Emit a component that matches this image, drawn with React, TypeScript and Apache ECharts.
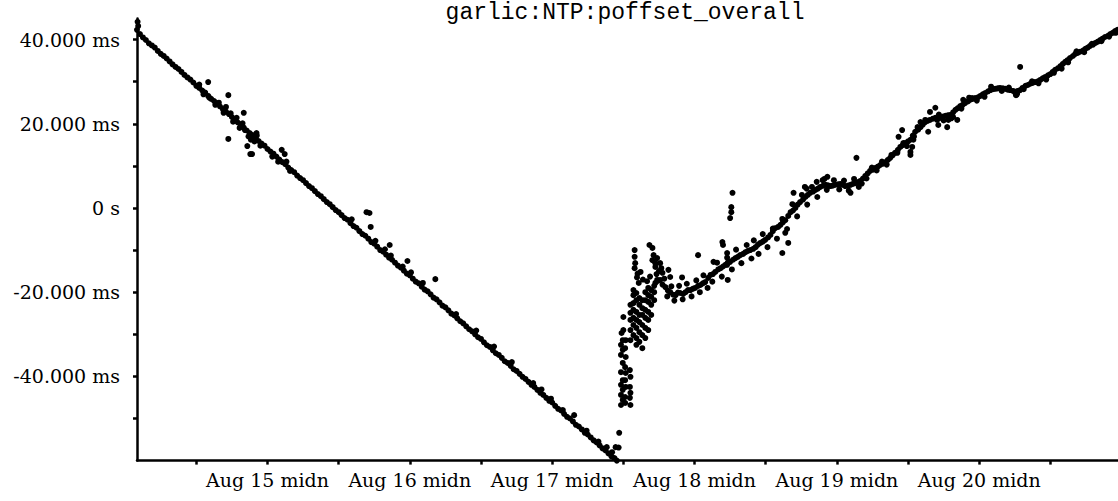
import React, { useEffect, useRef } from "react";
import * as echarts from "echarts";

// x values: hours relative to Aug 15 00:00 ; y values: offset in ms
const titleText = "garlic:NTP:poffset_overall";

const xTickHours = [-12, 0, 12, 24, 36, 48, 60, 72, 84, 96, 108, 120, 132];
const xLabelHours = [0, 24, 48, 72, 96, 120];
const xLabelTexts = ["Aug 15 midn", "Aug 16 midn", "Aug 17 midn", "Aug 18 midn", "Aug 19 midn", "Aug 20 midn"];
const yTickValues = [-50, -40, -30, -20, -10, 0, 10, 20, 30, 40];
const yLabelValues = [-40, -20, 0, 20, 40];
const yLabelTexts = ["-40.000 ms", "-20.000 ms", "0 s", "20.000 ms", "40.000 ms"];

const declinePoints: [number, number][] = [
  [-21.9, 44.2], [-21.8, 43.2], [-22.0, 42.3], [-21.5, 41.3], [-21, 40.5], [-20.5, 39.9], [-20, 39.1], [-19.5, 38.6],
  [-19, 38.1], [-18.5, 37.3], [-18, 36.6], [-17.5, 36.1], [-17, 35.5], [-16.5, 34.8], [-16, 34.1], [-15.5, 33.5],
  [-15, 33.0], [-14.5, 32.3], [-14, 31.6], [-13.5, 31.0], [-13, 30.5], [-12.5, 29.8], [-12, 29.0], [-11.5, 28.5],
  [-11, 27.9], [-10.5, 27.4], [-10, 26.6], [-9.5, 25.9], [-9, 25.4], [-8.5, 24.8], [-8, 24.1], [-7.5, 23.4],
  [-7, 22.9], [-6.5, 22.3], [-6, 21.6], [-5.5, 20.9], [-5, 20.3], [-4.5, 19.8], [-4, 19.1], [-3.5, 18.4],
  [-3, 17.8], [-2.5, 17.3], [-2, 16.6], [-1.5, 15.9], [-1, 15.3], [-0.5, 14.8], [0, 14.0], [0.5, 13.4],
  [1, 12.9], [1.5, 12.2], [2, 11.5], [2.5, 10.9], [3, 10.4], [3.5, 9.6], [4, 9.0], [4.5, 8.5],
  [5, 7.7], [5.5, 7.1], [6, 6.6], [6.5, 5.9], [7, 5.2], [7.5, 4.7], [8, 4.0], [8.5, 3.3],
  [9, 2.8], [9.5, 2.1], [10, 1.4], [10.5, 0.9], [11, 0.2], [11.5, -0.5], [12, -1.0], [12.5, -1.7],
  [13, -2.4], [13.5, -2.8], [14, -3.6], [14.5, -4.3], [15, -4.7], [15.5, -5.5], [16, -6.2], [16.5, -6.6],
  [17, -7.3], [17.5, -8.1], [18, -8.5], [18.5, -9.2], [19, -10.0], [19.5, -10.4], [20, -11.1], [20.5, -11.8],
  [21, -12.3], [21.5, -13.0], [22, -13.7], [22.5, -14.2], [23, -14.9], [23.5, -15.6], [24, -16.0], [24.5, -16.8],
  [25, -17.5], [25.5, -17.9], [26, -18.7], [26.5, -19.4], [27, -19.8], [27.5, -20.5], [28, -21.3], [28.5, -21.7],
  [29, -22.4], [29.5, -23.2], [30, -23.6], [30.5, -24.3], [31, -25.1], [31.5, -25.5], [32, -26.2], [32.5, -26.9],
  [33, -27.4], [33.5, -28.1], [34, -28.8], [34.5, -29.3], [35, -30.0], [35.5, -30.7], [36, -31.1], [36.5, -31.9],
  [37, -32.6], [37.5, -33.0], [38, -33.8], [38.5, -34.5], [39, -34.9], [39.5, -35.6], [40, -36.4], [40.5, -36.8],
  [41, -37.5], [41.5, -38.3], [42, -38.7], [42.5, -39.4], [43, -40.1], [43.5, -40.6], [44, -41.3], [44.5, -42.0],
  [45, -42.5], [45.5, -43.2], [46, -43.9], [46.5, -44.4], [47, -45.1], [47.5, -45.8], [48, -46.2], [48.5, -47.0],
  [49, -47.7], [49.5, -48.1], [50, -48.9], [50.5, -49.6], [51, -50.0], [51.5, -50.7], [52, -51.5], [52.5, -51.9],
  [53, -52.6], [53.5, -53.4], [54, -53.8], [54.5, -54.5], [55, -55.2], [55.5, -55.7], [56, -56.4], [56.5, -57.1],
  [57, -57.6], [57.5, -58.3], [58, -59.0], [58.5, -59.4], [58.9, -60.0],
];

const declineScatter: [number, number][] = [
  [-11.5, 29.3], [-10.8, 27.0], [-9.8, 26.2], [-8.8, 24.5], [-8.2, 25.0], [-7.4, 22.6], [-7.0, 24.0], [-6.2, 22.5],
  [-5.8, 20.5], [-5.2, 21.4], [-4.7, 19.0], [-4.2, 20.1], [-3.8, 18.5], [-3.2, 17.0], [-2.8, 16.2], [-2.2, 15.8],
  [-1.8, 17.2], [-1.2, 14.8], [0.8, 12.2], [1.8, 11.0], [3.2, 11.0], [3.8, 8.8], [14.2, -2.7], [18.2, -7.8],
  [19.8, -9.8], [20.8, -11.3], [22.8, -13.9], [24.2, -15.3], [26.2, -17.8], [31.8, -25.2], [35.2, -29.1],
  [38.2, -32.9], [41.2, -36.6], [44.8, -41.6], [46.2, -43.1], [47.8, -45.3], [49.8, -48.0], [53.8, -52.9],
  [55.8, -55.5], [57.2, -56.8],
  [-10.0, 29.9], [-6.6, 26.8], [-4.0, 22.6], [-6.6, 16.4], [-1.85, 17.8], [-2.9, 12.8], [-2.6, 12.8], [-3.4, 14.7],
  [2.4, 13.8], [2.9, 12.8], [16.7, -1.0], [17.2, -1.2], [17.4, -4.5], [20.6, -8.8], [23.6, -12.6], [28.3, -16.9],
  [51.7, -49.2],
];

const recoveryBurst: [number, number][] = [
  [58.1, -58.0], [58.7, -56.8], [59.2, -56.9], [59.3, -53.4],
  [59.6, -46.8], [59.9, -45.6], [59.6, -44.4], [59.9, -43.2], [59.6, -42.0], [59.9, -40.9], [59.6, -39.0],
  [59.9, -36.8], [59.6, -34.9], [59.9, -33.7], [59.6, -32.5], [59.9, -31.4], [59.7, -29.7], [60.0, -29.0], [60.0, -25.9],
  [60.3, -46.3], [60.3, -44.9], [60.4, -42.5], [60.3, -40.9], [60.4, -39.2], [60.3, -37.8], [60.4, -35.4], [60.3, -33.3], [60.4, -31.4],
  [61.2, -46.8], [61.1, -45.1], [61.2, -43.9], [61.1, -42.5], [61.2, -40.1], [61.1, -38.5],
  [61.2, -31.4], [61.2, -29.0], [61.2, -26.6], [61.2, -24.9], [61.2, -23.0],
  [61.7, -30.2], [61.7, -27.8], [61.7, -26.1], [61.7, -24.2], [61.7, -22.6], [61.7, -20.7], [61.7, -19.5],
  [62.2, -32.5], [62.2, -30.9], [62.2, -28.5], [62.2, -26.6], [62.2, -24.7], [62.2, -21.9], [62.2, -20.2],
  [62.7, -31.8], [62.7, -29.5], [62.7, -27.1], [62.7, -25.4], [62.7, -23.0], [62.7, -21.4],
  [63.2, -33.3], [63.2, -30.2], [63.2, -27.8], [63.2, -25.4], [63.2, -23.8], [63.2, -21.9],
  [63.7, -30.9], [63.7, -28.5], [63.7, -26.1], [63.7, -24.2], [63.7, -21.9], [63.7, -20.0],
  [64.2, -29.0], [64.2, -26.6], [64.2, -24.7], [64.2, -22.3], [64.2, -20.7], [64.2, -19.0],
  [64.7, -25.4], [64.7, -23.0], [64.7, -21.1], [64.7, -19.5],
  [65.2, -21.9], [65.2, -20.0], [65.2, -18.5],
  [61.9, -10.0], [61.9, -11.6], [62.0, -13.1], [61.9, -14.3], [62.9, -15.2], [62.4, -15.6],
  [64.4, -8.8], [64.9, -9.5], [65.1, -11.2], [64.9, -12.4], [65.4, -13.1], [65.7, -11.9], [66.2, -13.1],
  [66.4, -14.3], [66.6, -15.4], [65.4, -14.0],
  [62.3, -16.5], [62.6, -17.8], [63.3, -17.0], [64.0, -17.4], [64.5, -16.3],
];

const recoveryPoints: [number, number][] = [
  [65.4, -17.8], [65.8, -17.3], [66.2, -17.1], [66.6, -18.2], [67.1, -18.8], [67.5, -19.6], [67.9, -20.0], [68.4, -20.6],
  [68.8, -20.7], [69.2, -20.1], [69.6, -20.2], [70.1, -20.4], [70.5, -20.0], [70.9, -19.5], [71.3, -19.5], [71.7, -19.2],
  [72.1, -19.0], [72.6, -18.5], [73.0, -18.3], [73.4, -17.9], [73.8, -17.6], [74.3, -16.6], [74.7, -15.9], [75.1, -15.7],
  [75.5, -15.2], [76.0, -14.6], [76.4, -14.3], [76.8, -13.9], [77.2, -13.5], [77.6, -13.0], [78.0, -12.8], [78.5, -12.3],
  [78.9, -11.9], [79.3, -11.6], [79.7, -11.2], [80.2, -10.9], [80.6, -10.5], [81.0, -10.2], [81.4, -10.0], [81.9, -9.7],
  [82.3, -9.3], [82.7, -8.7], [83.1, -8.3], [83.5, -8.0], [83.9, -7.6], [84.4, -7.0], [84.8, -6.4], [85.2, -5.5],
  [85.6, -4.8], [86.1, -4.5], [86.5, -4.0], [86.9, -3.4], [87.3, -2.9], [87.8, -1.9], [88.2, -1.0], [88.6, -0.6],
  [89.0, 0.0], [89.4, 0.8], [89.8, 1.4], [90.3, 2.0], [90.7, 2.6], [91.1, 3.1], [91.5, 3.6], [92.0, 3.9],
  [92.4, 4.3], [92.8, 4.6], [93.2, 5.0], [93.7, 5.3], [94.1, 5.5], [94.5, 5.4], [94.9, 5.2], [95.3, 5.3],
  [95.7, 5.5], [96.2, 5.6], [96.6, 5.7], [97.0, 5.5], [97.4, 5.2], [97.9, 5.3], [98.3, 5.5], [98.7, 5.7],
  [99.1, 5.9], [99.5, 6.1], [99.9, 6.4], [100.4, 7.0], [100.8, 7.6], [101.2, 8.2], [101.6, 8.8], [102.1, 9.1],
  [102.5, 9.5], [102.9, 9.8], [103.3, 10.2], [103.8, 10.5], [104.2, 10.9], [104.6, 11.4], [105.0, 11.9], [105.4, 12.5],
  [105.8, 13.1], [106.3, 13.8], [106.7, 14.5], [107.1, 14.9], [107.5, 15.4], [108.0, 15.8], [108.4, 16.2], [108.8, 17.2],
  [109.2, 18.1], [109.7, 18.6], [110.1, 19.2], [110.5, 19.8], [110.9, 20.4], [111.3, 20.7], [111.7, 20.9], [112.2, 21.2],
  [112.6, 21.4], [113.0, 21.3], [113.4, 21.4], [113.9, 21.7], [114.3, 21.9], [114.7, 22.0], [115.1, 22.1], [115.6, 22.7],
  [116.0, 23.3], [116.4, 23.7], [116.8, 24.2], [117.2, 24.5], [117.6, 24.9], [118.1, 25.3], [118.5, 25.7], [118.9, 25.9],
  [119.3, 26.1], [119.8, 26.3], [120.2, 26.6], [120.6, 27.0], [121.0, 27.3], [121.5, 27.7], [121.9, 28.0], [122.3, 28.2],
  [122.7, 28.3], [123.1, 28.4], [123.5, 28.5], [124.0, 28.4], [124.4, 28.3], [124.8, 28.1], [125.2, 28.0], [125.7, 27.8],
  [126.1, 27.6], [126.5, 27.8], [126.9, 28.0], [127.3, 28.5], [127.8, 29.0], [128.2, 29.2], [128.6, 29.5], [129.0, 29.7],
  [129.4, 29.9], [129.9, 30.1], [130.3, 30.4], [130.7, 30.8], [131.1, 31.1], [131.6, 31.5], [132.0, 31.8], [132.4, 32.3],
  [132.8, 32.8], [133.3, 33.2], [133.7, 33.7], [134.1, 34.2], [134.5, 34.7], [134.9, 35.1], [135.3, 35.6], [135.8, 36.1],
  [136.2, 36.6], [136.6, 36.8], [137.0, 37.1], [137.5, 37.4], [137.9, 37.8], [138.3, 38.1], [138.7, 38.5], [139.2, 38.8],
  [139.6, 39.2], [140.0, 39.5], [140.4, 39.9], [140.8, 40.2], [141.2, 40.6], [141.7, 40.9], [142.1, 41.3], [142.5, 41.6],
  [142.9, 42.0], [143.3, 42.3],
];

const recoveryScatter: [number, number][] = [
  [66.0, -15.0], [66.9, -16.8], [67.4, -21.0], [68.1, -18.6], [68.6, -22.0], [69.4, -18.5], [70.0, -21.7], [70.7, -18.0],
  [71.5, -21.0], [72.3, -17.2], [72.9, -20.0], [65.6, -15.7], [65.7, -17.1], [67.6, -14.7], [67.9, -16.4], [69.9, -16.5],
  [73.5, -16.0], [74.2, -19.0], [75.0, -17.5], [75.8, -13.0], [76.6, -16.3], [77.5, -11.8], [78.3, -14.6], [79.0, -9.9],
  [79.9, -13.1], [80.8, -8.8], [81.6, -12.0], [82.0, -7.7], [82.8, -10.9], [83.5, -6.2], [84.3, -9.3], [85.2, -4.9],
  [85.9, -7.3], [86.8, -2.6], [87.6, -5.0], [88.5, 0.9], [89.3, -2.0], [90.1, 3.1], [91.0, 0.8], [91.8, 5.0],
  [92.7, 2.6], [93.6, 6.6],
  [72.6, -11.2], [75.2, -12.8], [76.7, -8.1], [76.8, -8.8], [77.5, -10.7], [77.5, -13.5], [77.6, -17.1], [78.4, 3.6],
  [78.2, 0.2], [78.2, -1.0], [78.0, -2.4], [86.8, -10.7], [87.8, -8.3], [87.3, -5.9], [88.7, 3.6], [90.6, 5.0],
  [90.9, 4.6], [92.6, 6.2], [93.9, 6.9], [94.4, 7.4], [99.3, 11.9], [98.3, 3.6], [126.9, 33.5],
  [94.3, 4.3], [95.5, 6.6], [96.4, 4.4], [97.2, 6.5], [98.0, 4.1], [98.9, 6.9], [99.7, 5.0],
  [100.2, 5.8], [101.0, 7.0], [101.9, 9.6], [102.7, 8.9], [103.6, 11.0], [104.4, 10.3], [105.2, 12.6], [107.8, 14.7],
  [109.0, 17.0], [113.2, 22.2], [114.0, 20.8], [115.3, 21.3], [117.0, 23.6], [118.3, 26.2], [119.6, 25.5], [120.9, 26.4],
  [122.0, 28.8], [123.8, 27.8], [125.0, 28.6], [126.3, 26.9], [126.4, 27.2], [127.5, 28.2], [128.9, 30.1], [130.0, 29.6],
  [131.3, 30.5], [132.6, 32.1], [133.9, 33.1], [135.0, 34.6], [136.4, 37.2], [137.7, 37.0], [139.0, 39.0], [140.6, 39.6],
  [141.9, 40.7], [143.0, 41.6],
  [106.4, 16.9], [107.0, 18.5], [107.2, 15.4], [108.4, 13.3], [108.7, 14.5], [108.9, 16.2], [106.2, 13.1], [108.4, 12.6],
  [109.6, 19.2], [110.1, 20.4], [110.9, 20.9], [111.4, 18.1], [111.7, 22.8], [112.6, 23.8], [112.9, 20.9], [113.1, 19.7],
  [114.6, 19.2], [114.8, 20.9], [115.6, 21.6], [116.3, 20.9], [117.3, 25.7], [118.8, 26.1], [126.1, 27.3], [126.2, 26.8],
];

export default function App() {
  const ref = useRef<HTMLDivElement>(null);
  useEffect(() => {
    if (!ref.current) return;
    const chart = echarts.init(ref.current, null, { renderer: "svg" });
    const allPoints = [
      ...declinePoints,
      ...declineScatter,
      ...recoveryBurst,
      ...recoveryPoints,
      ...recoveryScatter,
    ];
    const labelFont = { fontFamily: "DejaVu Serif", fontSize: 19, color: "#000" };
    chart.setOption({
      animation: false,
      backgroundColor: "#fff",
      title: {
        text: titleText,
        left: 625,
        top: 1,
        padding: 0,
        textAlign: "center",
        textStyle: { fontFamily: "Liberation Mono", fontSize: 23, fontWeight: "normal", color: "#000" },
      },
      grid: { left: 137, right: 0, top: 18.5, bottom: 40.4 },
      xAxis: {
        type: "value",
        min: -22,
        max: 143.4,
        splitLine: { show: false },
        axisLine: { show: true, onZero: false, lineStyle: { color: "#000", width: 2.5 } },
        axisTick: { show: true, customValues: xTickHours, length: 4, lineStyle: { color: "#000", width: 2.5 } },
        axisLabel: {
          ...labelFont,
          margin: 10,
          customValues: xLabelHours,
          formatter: (v: number) => {
            const i = xLabelHours.findIndex((h) => Math.abs(h - v) < 0.01);
            return i >= 0 ? xLabelTexts[i] : "";
          },
        },
      },
      yAxis: {
        type: "value",
        min: -60,
        max: 45,
        splitLine: { show: false },
        axisLine: { show: true, onZero: false, lineStyle: { color: "#000", width: 2.5 } },
        axisTick: { show: true, customValues: yTickValues, length: 4, lineStyle: { color: "#000", width: 2.5 } },
        axisLabel: {
          ...labelFont,
          margin: 17,
          customValues: yLabelValues,
          formatter: (v: number) => {
            const i = yLabelValues.findIndex((y) => Math.abs(y - v) < 0.01);
            return i >= 0 ? yLabelTexts[i] : "";
          },
        },
      },
      series: [
        {
          type: "scatter",
          data: allPoints,
          symbol: "circle",
          symbolSize: 6,
          itemStyle: { color: "#000", opacity: 1 },
          silent: true,
          clip: false,
        },
      ],
    });
    return () => chart.dispose();
  }, []);
  return (
    <div
      ref={ref}
      style={{ position: "fixed", left: 0, top: 0, width: 1118, height: 501, background: "#fff" }}
    />
  );
}
